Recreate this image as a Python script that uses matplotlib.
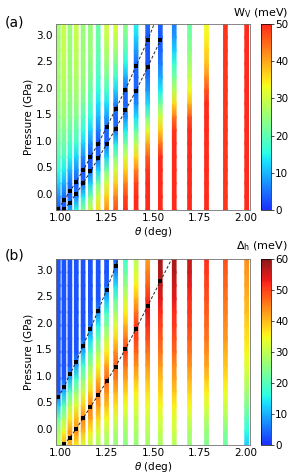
import numpy as np
import matplotlib
matplotlib.use("Agg")
import matplotlib.pyplot as plt
from matplotlib.colors import ListedColormap

# twist angles of the commensurate structures (one stripe each)
theta = [0.9874, 1.0178, 1.0501, 1.0845, 1.1213, 1.1606, 1.2028, 1.2482, 1.2972,
         1.3501, 1.4076, 1.4701, 1.5385, 1.6135, 1.6962, 1.7879, 1.8899, 2.0046]
# pressure samples along every stripe (GPa)
pressure = [-0.3, -0.05, 0.2, 0.45, 0.7, 0.95, 1.2, 1.45, 1.7, 1.95, 2.2, 2.45, 2.7, 2.95, 3.2]

# W_V (meV), one row per stripe, columns follow `pressure`
wv = [
    [3, 7, 12, 16, 19, 21, 23, 24, 25, 25, 26, 26, 26, 26, 26],
    [3, 4, 9, 14, 18, 21, 23, 25, 26, 27, 28, 28, 29, 29, 29],
    [9, 4, 5, 10, 15, 18, 21, 23, 24, 25, 25, 25, 25, 25, 25],
    [16, 6, 3, 7, 12, 17, 20, 23, 25, 26, 27, 28, 28, 29, 29],
    [24, 14, 4, 3, 7, 12, 16, 19, 22, 24, 25, 25, 25, 25, 25],
    [30, 22, 12, 4, 3, 7, 12, 16, 19, 21, 23, 24, 25, 25, 25],
    [36, 30, 22, 12, 4, 3, 6, 10, 13, 16, 18, 19, 20, 21, 21],
    [42, 37, 30, 22, 12, 4, 4, 8, 13, 18, 22, 25, 27, 29, 30],
    [47, 43, 37, 30, 23, 14, 5, 4, 6, 12, 17, 22, 26, 29, 31],
    [50, 48, 43, 37, 30, 22, 14, 7, 4, 4, 9, 15, 19, 22, 24],
    [50, 50, 48, 43, 36, 28, 20, 13, 7, 4, 4, 4, 8, 12, 15],
    [50, 50, 50, 49, 46, 40, 32, 22, 13, 8, 5, 3, 3, 3, 5],
    [50, 50, 50, 50, 50, 44, 37, 30, 22, 14, 9, 6, 4, 3, 4],
    [50, 50, 50, 50, 50, 50, 49, 44, 36, 28, 22, 17, 12, 8, 6],
    [50, 50, 50, 50, 50, 50, 50, 47, 39, 33, 29, 26, 24, 22, 21],
    [50, 50, 50, 50, 50, 50, 50, 50, 50, 47, 42, 38, 36, 34, 33],
    [49, 49, 49, 49, 49, 49, 49, 49, 49, 49, 49, 49, 49, 49, 49],
    [50, 50, 50, 50, 50, 50, 50, 50, 50, 50, 50, 50, 50, 50, 50],
]

# Delta_h (meV), same layout
dh = [
    [30, 28, 22, 12, 3, 3, 3, 3, 3, 3, 3, 3, 3, 3, 3],
    [42, 35, 28, 20, 10, 3, 3, 3, 3, 3, 3, 3, 3, 3, 3],
    [40, 43, 36, 29, 20, 10, 3, 3, 3, 3, 3, 3, 3, 3, 3],
    [36, 44, 40, 33, 26, 18, 8, 3, 3, 3, 3, 3, 3, 3, 3],
    [33, 40, 45, 38, 31, 25, 18, 10, 4, 3, 3, 3, 3, 3, 3],
    [30, 36, 42, 45, 38, 32, 26, 20, 13, 5, 3, 3, 3, 3, 3],
    [28, 32, 38, 43, 46, 40, 34, 28, 22, 15, 7, 3, 3, 3, 3],
    [27, 30, 35, 40, 44, 47, 42, 36, 30, 24, 18, 11, 4, 3, 3],
    [26, 28, 32, 37, 41, 45, 48, 44, 38, 33, 27, 21, 14, 7, 4],
    [25, 27, 30, 34, 38, 42, 46, 50, 46, 41, 36, 31, 26, 22, 18],
    [26, 28, 30, 33, 36, 40, 44, 47, 50, 51, 46, 41, 36, 32, 29],
    [27, 29, 31, 34, 37, 40, 43, 46, 49, 52, 54, 52, 48, 45, 42],
    [28, 30, 32, 35, 38, 40, 43, 46, 48, 50, 52, 54, 56, 57, 58],
    [29, 31, 33, 36, 39, 42, 44, 47, 49, 51, 52, 54, 55, 57, 58],
    [26, 28, 31, 35, 38, 41, 44, 46, 48, 50, 51, 52, 53, 55, 56],
    [24, 26, 29, 33, 36, 39, 42, 44, 46, 47, 48, 49, 50, 51, 52],
    [22, 24, 28, 31, 34, 37, 39, 41, 43, 44, 45, 46, 47, 48, 49],
    [12, 16, 20, 24, 27, 30, 33, 35, 37, 38, 40, 41, 42, 43, 44],
]

# magic lines (dashed) and the points on them
a_left_th = [0.9874, 1.0178, 1.0501, 1.0845, 1.1213, 1.1606, 1.2028, 1.2482, 1.2972, 1.3501, 1.4076, 1.4701]
a_left_p = [-0.275, -0.12, 0.05, 0.235, 0.445, 0.69, 0.95, 1.255, 1.6, 1.965, 2.41, 2.89]
a_left_end = (1.505, 3.2)
a_right_th = [1.0178, 1.0501, 1.0845, 1.1213, 1.1606, 1.2028, 1.2482, 1.2972, 1.3501, 1.4076, 1.4701, 1.5385]
a_right_p = [-0.29, -0.16, 0.01, 0.20, 0.425, 0.67, 0.935, 1.23, 1.575, 1.945, 2.39, 2.89]

b_left_th = [0.9874, 1.0178, 1.0501, 1.0845, 1.1213, 1.1606, 1.2028, 1.2482, 1.2972]
b_left_p = [0.595, 0.79, 1.03, 1.27, 1.57, 1.885, 2.23, 2.62, 3.065]
b_left_end = (1.31, 3.2)
b_right_th = [1.0178, 1.0501, 1.0845, 1.1213, 1.1606, 1.2028, 1.2482, 1.2972, 1.3501, 1.4076, 1.4701, 1.5385]
b_right_p = [-0.29, -0.16, 0.005, 0.205, 0.415, 0.64, 0.895, 1.175, 1.51, 1.885, 2.32, 2.78]
b_right_end = (1.60, 3.2)


def soft_jet(lo, hi):
    # jet slice, washed a little toward white like the original render
    c = plt.get_cmap('jet')(np.linspace(lo, hi, 256))
    c[:, :3] = c[:, :3] * 0.9 + 0.1
    return ListedColormap(c)


cmap_a = soft_jet(0.15, 0.89)
cmap_b = soft_jet(0.15, 1.0)

fs = 7.5
width = 0.02

fig = plt.figure(figsize=(2.91, 4.74), dpi=100)


def draw_panel(ax, cax, values, cmap, vmax, lines, cticks, clabel, label, label_y):
    P = np.array(pressure)
    mesh = None
    for th, col in zip(theta, values):
        X = np.column_stack([np.full(len(P), th - width / 2), np.full(len(P), th + width / 2)])
        Y = np.column_stack([P, P])
        C = np.column_stack([col, col]).astype(float)
        mesh = ax.pcolormesh(X, Y, C, shading='gouraud', cmap=cmap, vmin=0, vmax=vmax)
    for th, p, end in lines:
        xs = list(th) + ([end[0]] if end else [])
        ys = list(p) + ([end[1]] if end else [])
        ax.plot(xs, ys, ls=(0, (3, 2)), color='0.15', lw=0.7)
        ax.plot(th, p, 's', color='black', ms=3.2, mew=0)
    ax.set_xlim(0.975, 2.02)
    ax.set_ylim(-0.3, 3.2)
    ax.set_xticks([1.0, 1.25, 1.5, 1.75, 2.0])
    ax.set_xticklabels(['1.00', '1.25', '1.50', '1.75', '2.00'])
    ax.set_yticks([0.0, 0.5, 1.0, 1.5, 2.0, 2.5, 3.0])
    ax.tick_params(labelsize=fs, length=0, pad=2.5)
    for s in ax.spines.values():
        s.set_color('0.45')
        s.set_linewidth(0.6)
    ax.set_xlabel(r'$\theta$ (deg)', fontsize=fs, labelpad=1)
    ax.set_ylabel('Pressure (GPa)', fontsize=fs, labelpad=1.5)
    cb = fig.colorbar(mesh, cax=cax, ticks=cticks)
    cb.ax.tick_params(labelsize=fs, length=2, width=0.5, pad=1)
    cb.outline.set_linewidth(0.5)
    fig.text(288 / 291, label_y, clabel, fontsize=8, ha='right', va='center')
    fig.text(5 / 291, label_y - 0.02, label, fontsize=10, ha='left', va='center')


ax_a = fig.add_axes([0.1924, 0.557, 0.665, 0.3924])
cax_a = fig.add_axes([0.897, 0.557, 0.0344, 0.3924])
ax_b = fig.add_axes([0.1924, 0.0612, 0.665, 0.3924])
cax_b = fig.add_axes([0.897, 0.0612, 0.0344, 0.3924])

draw_panel(ax_a, cax_a, wv, cmap_a, 50,
           [(a_left_th, a_left_p, a_left_end), (a_right_th, a_right_p, None)],
           [0, 10, 20, 30, 40, 50], r'W$_\mathrm{V}$ (meV)', '(a)', 1 - 13 / 474)
draw_panel(ax_b, cax_b, dh, cmap_b, 60,
           [(b_left_th, b_left_p, b_left_end), (b_right_th, b_right_p, b_right_end)],
           [0, 10, 20, 30, 40, 50, 60], r'$\Delta_\mathrm{h}$ (meV)', '(b)', 1 - 246 / 474)

fig.savefig('out.png', dpi=100)
